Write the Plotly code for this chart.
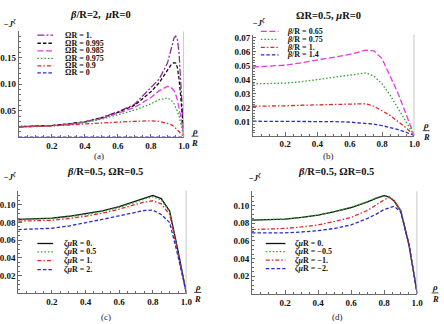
import plotly.graph_objects as go

# ---------------- data ----------------
rho_a = [0, 0.1, 0.2, 0.3, 0.4, 0.5, 0.6, 0.7, 0.8, 0.85, 0.9, 0.92, 0.94, 0.95, 0.96, 0.97, 0.98, 0.99, 1.0]
Ja_1000 = [0.020, 0.021, 0.022, 0.025, 0.029, 0.037, 0.048, 0.062, 0.093, 0.110, 0.140, 0.165, 0.188, 0.191, 0.185, 0.160, 0.110, 0.055, 0.0]
Ja_0995 = [0.020, 0.021, 0.022, 0.025, 0.029, 0.036, 0.047, 0.060, 0.086, 0.103, 0.126, 0.136, 0.141, 0.140, 0.132, 0.110, 0.078, 0.040, 0.0]
Ja_0985 = [0.019, 0.020, 0.022, 0.024, 0.028, 0.035, 0.045, 0.056, 0.075, 0.088, 0.096, 0.095, 0.088, 0.081, 0.070, 0.057, 0.040, 0.020, 0.0]
Ja_0975 = [0.019, 0.020, 0.021, 0.024, 0.028, 0.034, 0.043, 0.051, 0.063, 0.071, 0.074, 0.071, 0.063, 0.057, 0.049, 0.040, 0.028, 0.014, 0.0]
Ja_0900 = [0.019, 0.020, 0.021, 0.023, 0.025, 0.027, 0.029, 0.030, 0.031, 0.030, 0.026, 0.024, 0.020, 0.017, 0.014, 0.011, 0.008, 0.004, 0.0]
Ja_0000 = [0.0] * len(rho_a)

rho_b = [0, 0.1, 0.2, 0.3, 0.4, 0.5, 0.6, 0.7, 0.75, 0.8, 0.85, 0.9, 0.95, 1.0]
Jb_065 = [0.049, 0.0495, 0.0503, 0.052, 0.054, 0.056, 0.058, 0.061, 0.0605, 0.055, 0.043, 0.030, 0.015, 0.0]
Jb_075 = [0.037, 0.037, 0.0375, 0.0385, 0.040, 0.0415, 0.043, 0.0448, 0.0425, 0.037, 0.029, 0.019, 0.009, 0.0]
Jb_100 = [0.021, 0.021, 0.0213, 0.0217, 0.022, 0.0223, 0.0227, 0.0228, 0.021, 0.018, 0.0145, 0.010, 0.0055, 0.0]
Jb_140 = [0.0103, 0.0103, 0.0103, 0.0103, 0.0102, 0.0100, 0.0097, 0.0089, 0.0082, 0.0072, 0.0058, 0.0043, 0.0024, 0.0]

rho_c = [0, 0.1, 0.2, 0.3, 0.4, 0.5, 0.6, 0.7, 0.75, 0.8, 0.85, 0.9, 0.95, 1.0]
Jc_00 = [0.0835, 0.084, 0.085, 0.087, 0.0896, 0.093, 0.0978, 0.1045, 0.108, 0.1105, 0.107, 0.093, 0.048, 0.0]
Jc_05 = [0.083, 0.0835, 0.0845, 0.0865, 0.089, 0.0925, 0.097, 0.103, 0.1065, 0.109, 0.1055, 0.092, 0.047, 0.0]
Jc_10 = [0.0815, 0.082, 0.0825, 0.0845, 0.087, 0.0905, 0.095, 0.1005, 0.103, 0.1045, 0.101, 0.089, 0.046, 0.0]
Jc_20 = [0.072, 0.0725, 0.0735, 0.076, 0.0795, 0.0835, 0.0875, 0.092, 0.0935, 0.094, 0.089, 0.080, 0.042, 0.0]

rho_d = [0, 0.1, 0.2, 0.3, 0.4, 0.5, 0.6, 0.7, 0.75, 0.8, 0.83, 0.86, 0.9, 0.95, 1.0]
Jd_00 = [0.0835, 0.084, 0.0846, 0.0865, 0.089, 0.093, 0.0977, 0.104, 0.108, 0.111, 0.1095, 0.105, 0.094, 0.055, 0.0]
Jd_05 = [0.0835, 0.084, 0.0846, 0.0865, 0.089, 0.093, 0.0977, 0.1045, 0.1085, 0.1115, 0.110, 0.105, 0.094, 0.055, 0.0]
Jd_10 = [0.0727, 0.0732, 0.074, 0.0757, 0.078, 0.082, 0.0865, 0.0945, 0.1005, 0.1065, 0.109, 0.106, 0.095, 0.056, 0.0]
Jd_20 = [0.069, 0.069, 0.069, 0.070, 0.0715, 0.074, 0.078, 0.0855, 0.090, 0.0955, 0.0975, 0.099, 0.093, 0.056, 0.0]

labels_a = ["ΩR = 1.", "ΩR = 0.995", "ΩR = 0.985", "ΩR = 0.975", "ΩR = 0.9", "ΩR = 0"]
labels_b = ["<i>β</i>/R = 0.65", "<i>β</i>/R = 0.75", "<i>β</i>/R = 1.", "<i>β</i>/R = 1.4"]
labels_c = ["<i>ζμ</i>R = 0.", "<i>ζμ</i>R = 0.5", "<i>ζμ</i>R = 1.", "<i>ζμ</i>R = 2."]
labels_d = ["<i>ζμ</i>R = 0.", "<i>ζμ</i>R = −0.5", "<i>ζμ</i>R = −1.", "<i>ζμ</i>R = −2."]

titles = ["<i>β</i>/R=2,  <i>μ</i>R=0", "ΩR=0.5, <i>μ</i>R=0",
          "<i>β</i>/R=0.5, ΩR=0.5", "<i>β</i>/R=0.5, ΩR=0.5"]
captions = ["(a)", "(b)", "(c)", "(d)"]

# ---------------- styles ----------------
PURPLE = "#8E2C9E"; BLACK = "#111111"; MAGENTA = "#E23BE2"
GREEN = "#2AA52A"; RED = "#DD2B2B"; BLUE = "#2B2BCF"
D_LONG = "6px,2.5px"; D_DASH = "3.5px,2px"; D_DOT = "1.5px,2px"
D_DASHDOT = "4px,2px,1.5px,2px"; D_SOLID = "solid"; D_PLONG = "7px,2px,2px,2px"

W, H = 444, 324
def px(x): return x / W
def py(y): return 1 - y / H

SERIF = "Liberation Serif"

panels = [
    dict(xd=(18.1, 186), y0=136, ytop=29.6, ymax=0.2, ytv=[0.05, 0.10, 0.15], yfmt="%.2f", ymin=0.01,
         series=[(rho_a, Ja_1000, PURPLE, D_PLONG), (rho_a, Ja_0995, BLACK, D_DASH),
                 (rho_a, Ja_0985, MAGENTA, D_LONG), (rho_a, Ja_0975, GREEN, D_DOT),
                 (rho_a, Ja_0900, RED, D_DASHDOT), (rho_a, Ja_0000, BLUE, D_DASH)],
         labels=labels_a, leg=dict(x0=37, x1=53, tx=63, rows=[33.3, 41.5, 49.2, 56.8, 64.2, 71.3]),
         title=(101, 13), cap=(100, 155), jl=(9, 21.5), frac=(197, 136)),
    dict(xd=(256, 420), y0=134.5, ytop=33, ymax=0.072, ytv=[0.01, 0.02, 0.03, 0.04, 0.05, 0.06, 0.07], yfmt="%.2f", ymin=0.002,
         series=[(rho_b, Jb_065, MAGENTA, D_LONG), (rho_b, Jb_075, GREEN, D_DOT),
                 (rho_b, Jb_100, RED, D_DASHDOT), (rho_b, Jb_140, BLUE, D_DASH)],
         labels=labels_b, leg=dict(x0=264, x1=282, tx=288.5, rows=[29.5, 37.7, 45.6, 53.3]),
         title=(332.5, 13.3), cap=(333, 155), jl=(262, 21), frac=(432, 130.5)),
    dict(xd=(17.5, 188.5), y0=293.3, ytop=189.7, ymax=0.116, ytv=[0.02, 0.04, 0.06, 0.08, 0.10], yfmt="%.2f", ymin=0.005,
         series=[(rho_c, Jc_00, BLACK, D_SOLID), (rho_c, Jc_05, GREEN, D_DOT),
                 (rho_c, Jc_10, RED, D_DASHDOT), (rho_c, Jc_20, BLUE, D_DASH)],
         labels=labels_c, leg=dict(x0=37, x1=53, tx=61.5, rows=[243, 251.5, 260.3, 269.2]),
         title=(106, 170.5), cap=(107, 317), jl=(9, 175.5), frac=(200, 293.3)),
    dict(xd=(255, 423), y0=293.7, ytop=190.5, ymax=0.116, ytv=[0.02, 0.04, 0.06, 0.08, 0.10], yfmt="%.2f", ymin=0.005,
         series=[(rho_d, Jd_00, BLACK, D_SOLID), (rho_d, Jd_05, GREEN, D_DOT),
                 (rho_d, Jd_10, RED, D_DASHDOT), (rho_d, Jd_20, BLUE, D_DASH)],
         labels=labels_d, leg=dict(x0=269, x1=289, tx=296.5, rows=[243, 251.2, 259.8, 268.2]),
         title=(340.5, 171), cap=(342, 317), jl=(258, 177), frac=(441, 293.7)),
]

fig = go.Figure()
shapes = []
annotations = []
layout = {}
AXC = "#6a6a6a"

for i, p in enumerate(panels, start=1):
    xs = "" if i == 1 else str(i)
    xref, yref = "x" + xs, "y" + xs
    for (xv, yv, col, dash) in p["series"]:
        fig.add_trace(go.Scatter(x=xv, y=yv, mode="lines", xaxis=xref, yaxis=yref,
                                 line=dict(color=col, width=1.3, dash=dash), showlegend=False,
                                 hoverinfo="skip"))
    layout["xaxis" + xs] = dict(
        domain=[px(p["xd"][0]), px(p["xd"][1])], range=[0, 1.0005], anchor=yref,
        showline=True, linecolor=AXC, linewidth=1, ticks="inside", ticklen=3.5, tickcolor=AXC,
        tickvals=[0.2, 0.4, 0.6, 0.8, 1.0], ticktext=["0.2", "0.4", "0.6", "0.8", "1.0"],
        tickfont=dict(family=SERIF, size=9, color="#111", weight="bold"),
        showgrid=False, zeroline=False, fixedrange=True,
        minor=dict(dtick=0.05, tick0=0, ticks="inside", ticklen=2, tickcolor=AXC),
    )
    layout["yaxis" + xs] = dict(
        domain=[py(p["y0"]), py(p["ytop"])], range=[0, p["ymax"]], anchor=xref,
        showline=True, linecolor=AXC, linewidth=1, ticks="inside", ticklen=3.5, tickcolor=AXC,
        tickvals=p["ytv"], ticktext=[p["yfmt"] % v for v in p["ytv"]],
        tickfont=dict(family=SERIF, size=9, color="#111", weight="bold"),
        showgrid=False, zeroline=False, fixedrange=True,
        minor=dict(dtick=p["ymin"], tick0=0, ticks="inside", ticklen=2, tickcolor=AXC),
    )
    # gray reference line at rho/R = 1
    shapes.append(dict(type="line", xref=xref, yref=yref + " domain", x0=1, x1=1, y0=0, y1=1,
                       line=dict(color="#bdbdbd", width=1.5)))
    # legend samples and text
    lg = p["leg"]
    for (xv, yv, col, dash), lab, ry in zip(p["series"], p["labels"], lg["rows"]):
        shapes.append(dict(type="line", xref="paper", yref="paper", x0=px(lg["x0"]), x1=px(lg["x1"]),
                           y0=py(ry), y1=py(ry), line=dict(color=col, width=1.3, dash=dash)))
        annotations.append(dict(xref="paper", yref="paper", x=px(lg["tx"]), y=py(ry), text="<b>" + lab + "</b>",
                                showarrow=False, xanchor="left", yanchor="middle",
                                font=dict(family=SERIF, size=8, color="#111")))
    # title
    annotations.append(dict(xref="paper", yref="paper", x=px(p["title"][0]), y=py(p["title"][1]),
                            text="<b>" + titles[i - 1] + "</b>", showarrow=False,
                            xanchor="center", yanchor="middle", font=dict(family=SERIF, size=10.5, color="#111")))
    # caption
    annotations.append(dict(xref="paper", yref="paper", x=px(p["cap"][0]), y=py(p["cap"][1]),
                            text=captions[i - 1], showarrow=False, xanchor="center", yanchor="middle",
                            font=dict(family=SERIF, size=9, color="#222")))
    # y label
    annotations.append(dict(xref="paper", yref="paper", x=px(p["jl"][0]), y=py(p["jl"][1]),
                            text="<b>−<i>J</i><sup><i>ζ</i></sup></b>", showarrow=False,
                            xanchor="center", yanchor="middle", font=dict(family=SERIF, size=8.5, color="#111")))
    # x label rho / R
    fx, fy = p["frac"]
    annotations.append(dict(xref="paper", yref="paper", x=px(fx), y=py(fy - 6.5),
                            text="<b><i>ρ</i></b>", showarrow=False, xanchor="center", yanchor="middle",
                            font=dict(family=SERIF, size=9, color="#111")))
    annotations.append(dict(xref="paper", yref="paper", x=px(fx), y=py(fy + 5.5),
                            text="<b><i>R</i></b>", showarrow=False, xanchor="center", yanchor="middle",
                            font=dict(family=SERIF, size=8.5, color="#111")))
    shapes.append(dict(type="line", xref="paper", yref="paper", x0=px(fx - 3.5), x1=px(fx + 3.5),
                       y0=py(fy - 1), y1=py(fy - 1), line=dict(color="#111", width=0.8)))

fig.update_layout(width=W, height=H, margin=dict(l=0, r=0, t=0, b=0),
                  paper_bgcolor="white", plot_bgcolor="white",
                  shapes=shapes, annotations=annotations, showlegend=False, **layout)

fig.write_html("out.html", config=dict(displayModeBar=False))
